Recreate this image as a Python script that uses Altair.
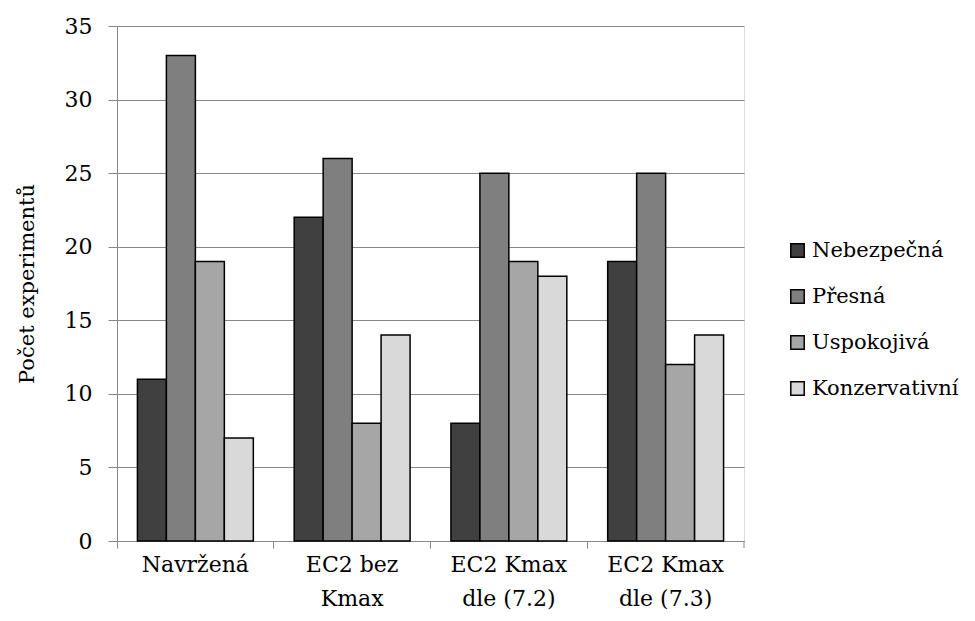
import altair as alt
import pandas as pd

categories = ["Navržená", "EC2 bez|Kmax", "EC2 Kmax|dle (7.2)", "EC2 Kmax|dle (7.3)"]
series = ["Nebezpečná", "Přesná", "Uspokojivá", "Konzervativní"]
values = {
    "Nebezpečná":    [11, 22, 8, 19],
    "Přesná":        [33, 26, 25, 25],
    "Uspokojivá":    [19, 8, 19, 12],
    "Konzervativní": [7, 14, 18, 14],
}
colors = ["#404040", "#7f7f7f", "#a6a6a6", "#d9d9d9"]

rows = []
for s in series:
    for c, v in zip(categories, values[s]):
        rows.append({"cat": c, "series": s, "value": v})
df = pd.DataFrame(rows)

W, H = 627, 515
FONT = "DejaVu Serif"

bars = alt.Chart(df).mark_bar(stroke="black", strokeWidth=1.5).encode(
    x=alt.X("cat:N", sort=categories,
            scale=alt.Scale(paddingInner=0, paddingOuter=0),
            axis=alt.Axis(title=None, bandPosition=0,
                          labelExpr="split(datum.label, '|')",
                          labelAngle=0, labelOverlap=False, labelBound=False,
                          labelFontSize=22, labelLineHeight=34, labelPadding=6,
                          labelBaseline="top",
                          tickSize=7, tickColor="#888888", domainColor="#888888",
                          labelColor="black", labelFont=FONT)),
    xOffset=alt.XOffset("series:N", sort=series,
                        scale=alt.Scale(paddingInner=0, paddingOuter=0.705)),
    y=alt.Y("value:Q", scale=alt.Scale(domain=[0, 35]),
            axis=alt.Axis(title="Počet experimentů", values=list(range(0, 36, 5)),
                          tickSize=9, labelPadding=16, labelFontSize=22,
                          labelFont=FONT, labelColor="black",
                          titleFont=FONT, titleFontSize=21, titleFontWeight="normal",
                          titleColor="black", titlePadding=27,
                          tickColor="#888888", domainColor="#888888",
                          gridColor="#888888", gridWidth=1)),
    color=alt.Color("series:N", sort=series,
                    scale=alt.Scale(domain=series, range=colors),
                    legend=alt.Legend(title=None, orient="none", legendX=670, legendY=214,
                                      symbolType="square", symbolSize=180,
                                      symbolStrokeColor="black", symbolStrokeWidth=1.5,
                                      labelFont=FONT, labelFontSize=21, labelColor="black",
                                      rowPadding=24, labelOffset=4)),
)

end_tick = alt.Chart(pd.DataFrame({"a": [0]})).mark_rule(color="#888888").encode(
    x=alt.value(W), y=alt.value(H), y2=alt.value(H + 7)
)

chart = alt.layer(bars, end_tick).properties(
    width=W, height=H,
    autosize=alt.AutoSizeParams(type="none"),
    padding={"left": 109, "top": 18, "right": 223, "bottom": 72},
).configure_view(stroke=None).configure(background="white")

chart.save("out.html", embed_options={"renderer": "svg", "actions": False})
